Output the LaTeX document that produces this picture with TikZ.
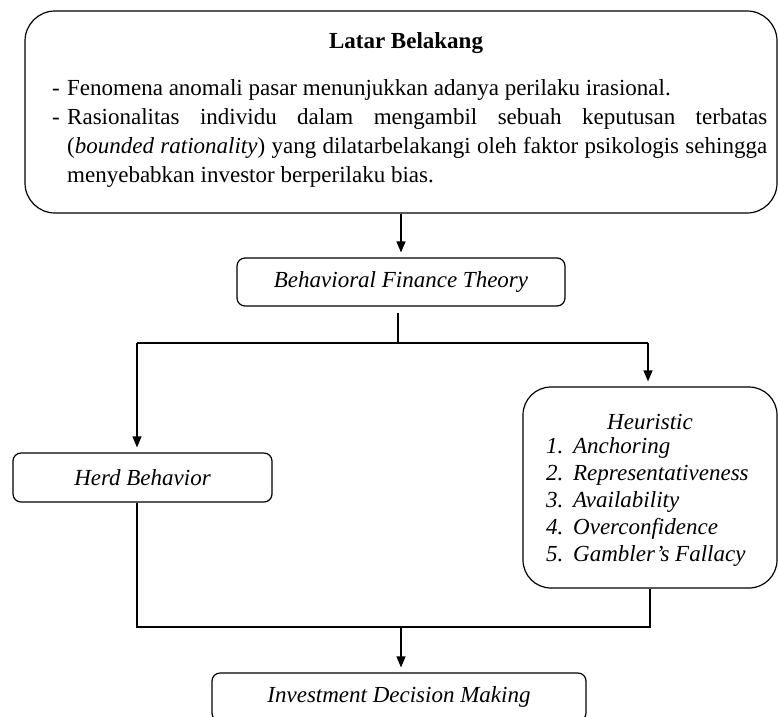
\documentclass[tikz,border=0pt]{standalone}
\usepackage{fontspec}
\setmainfont{Liberation Serif}
\usetikzlibrary{arrows.meta}
\begin{document}
\begin{tikzpicture}[x=1pt,y=-1pt,
  box/.style={draw, line width=1.2pt, rounded corners=8pt, inner sep=0pt},
  conn/.style={line width=1.2pt},
  arr/.style={conn, -{Triangle[width=9pt,length=11pt]}, shorten >=5pt},
  txt/.style={font=\fontsize{23}{29}\selectfont},
  itxt/.style={font=\itshape\fontsize{23}{27}\selectfont}]
\useasboundingbox (0,0) rectangle (778,716);

% boxes
\node[box, rounded corners=30pt, minimum width=752pt, minimum height=202pt] (bg) at (401,112) {};
\node[box, minimum width=328pt, minimum height=48pt, itxt] (bft) at (401,282) {Behavioral Finance Theory};
\node[box, minimum width=259pt, minimum height=49pt, itxt] (herd) at (142.5,477.5) {Herd Behavior};
\node[box, rounded corners=28pt, minimum width=254pt, minimum height=201pt] (heu) at (650,487.5) {};
\node[box, minimum width=374pt, minimum height=48pt, itxt] (idm) at (399,697) {Investment Decision Making};

% texts of the top box
\node[font=\bfseries\fontsize{23}{29}\selectfont] (title) at (406,43) {Latar Belakang};
\node[anchor=north west, text width=715pt, align=justify, inner sep=0pt, txt] (bul) at (52,79)
 {\noindent\hangindent=15pt\hangafter=1\makebox[15pt][l]{-}Fenomena anomali pasar menunjukkan adanya perilaku irasional.\par
  \noindent\hangindent=15pt\hangafter=1\makebox[15pt][l]{-}Rasionalitas individu dalam mengambil sebuah keputusan terbatas\linebreak
  (\textit{bounded rationality}) yang dilatarbelakangi oleh faktor psikologis sehingga\linebreak
  menyebabkan investor berperilaku bias.\par};

% texts of the heuristic box
\node[itxt] (heut) at (650,422) {Heuristic};
\node[anchor=north west, align=left, inner sep=0pt, itxt] (heul) at (546,437)
 {\makebox[27pt][l]{1.}Anchoring\\
  \makebox[27pt][l]{2.}Representativeness\\
  \makebox[27pt][l]{3.}Availability\\
  \makebox[27pt][l]{4.}Overconfidence\\
  \makebox[27pt][l]{5.}Gambler’s Fallacy};

% connectors
\coordinate (split) at (398,343);
\coordinate (sl) at (137,343);
\coordinate (sr) at (648,343);
\coordinate (jl) at (137,627);
\coordinate (jr) at (650,627);
\coordinate (jm) at (401,627);

\draw[arr] (bg.south) -- (bft.north);
\draw[conn, shorten <=6pt] (bft.south -| split) -- (split);
\draw[conn] (sl) -- (sr);
\draw[arr] (sl) -- (sl |- herd.north);
\draw[arr] (sr) -- (sr |- heu.north);
\draw[conn] (herd.south -| jl) -- (jl) -- (jr) -- (heu.south -| jr);
\draw[arr] (jm) -- (jm |- idm.north);
\end{tikzpicture}
\end{document}
